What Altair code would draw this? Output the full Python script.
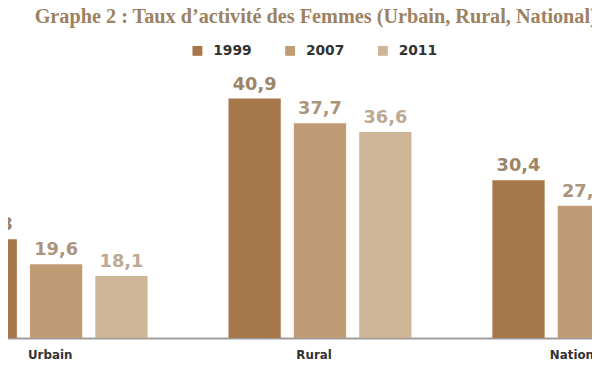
import altair as alt
import pandas as pd

categories = ["Urbain", "Rural", "National"]
years = ["1999", "2007", "2011"]
v1999 = [22.8, 40.9, 30.4]
v2007 = [19.6, 37.7, 27.1]
v2011 = [18.1, 36.6, 25.5]
bar_colors = ["#a6774a", "#bf9b76", "#cfb597"]
label_colors = ["#9c8468", "#ab957d", "#bca994"]

rows = []
for series, vals in zip(years, [v1999, v2007, v2011]):
    for cat, v in zip(categories, vals):
        rows.append({"zone": cat, "annee": series, "taux": v,
                     "label": f"{v:.1f}".replace(".", ","),
                     "lcol": label_colors[years.index(series)]})
df = pd.DataFrame(rows)

y_min = 10.13
y_max = 47.14

x_enc = alt.X("zone:N", sort=categories,
              scale=alt.Scale(range=[-44, 676.5], paddingInner=0.3065, paddingOuter=0),
              axis=alt.Axis(title=None, labelAngle=0, ticks=False, domainColor="#9d9d9d",
                            domainWidth=2, labelFont="DejaVu Sans", labelFontWeight="bold",
                            labelFontSize=12, labelColor="#333333", labelPadding=12,
                            labelOffset=-6))
xo_enc = alt.XOffset("annee:N", sort=years, scale=alt.Scale(paddingInner=0.2, paddingOuter=0))
y_enc = alt.Y("taux:Q", scale=alt.Scale(domain=[y_min, y_max], zero=False, nice=False), axis=None)

bars = alt.Chart(df).mark_bar(clip=True).encode(
    x=x_enc, xOffset=xo_enc, y=y_enc,
    color=alt.Color("annee:N", sort=years,
                    scale=alt.Scale(domain=years, range=bar_colors),
                    legend=alt.Legend(title=None, orient="none", direction="horizontal",
                                      legendX=185, legendY=-6, symbolType="square",
                                      symbolSize=100, symbolStrokeWidth=0, labelFont="DejaVu Sans",
                                      labelFontWeight="bold", labelFontSize=14,
                                      labelColor="#333333", labelOffset=9, columnPadding=32,
                                      padding=0)),
)

labels = alt.Chart(df).mark_text(baseline="alphabetic", dy=-9, font="DejaVu Sans",
                                 fontSize=18, fontWeight="bold").encode(
    x=x_enc, xOffset=xo_enc, y=y_enc,
    text="label:N",
    color=alt.Color("lcol:N", scale=None),
)

chart = alt.layer(bars, labels).properties(
    width=592, height=292,
    padding={"left": 0, "top": 40, "right": 0, "bottom": 28},
    autosize=alt.AutoSizeParams(type="none"),
    title=alt.TitleParams("Graphe 2 : Taux d’activité des Femmes (Urbain, Rural, National)",
                          anchor="start", frame="group", dx=27, dy=-17,
                          font="Liberation Serif", fontSize=20.5,
                          fontWeight="bold", color="#9c8262", offset=0),
).configure_view(stroke=None)

chart.save("out.html", embed_options={"renderer": "svg", "actions": False})
